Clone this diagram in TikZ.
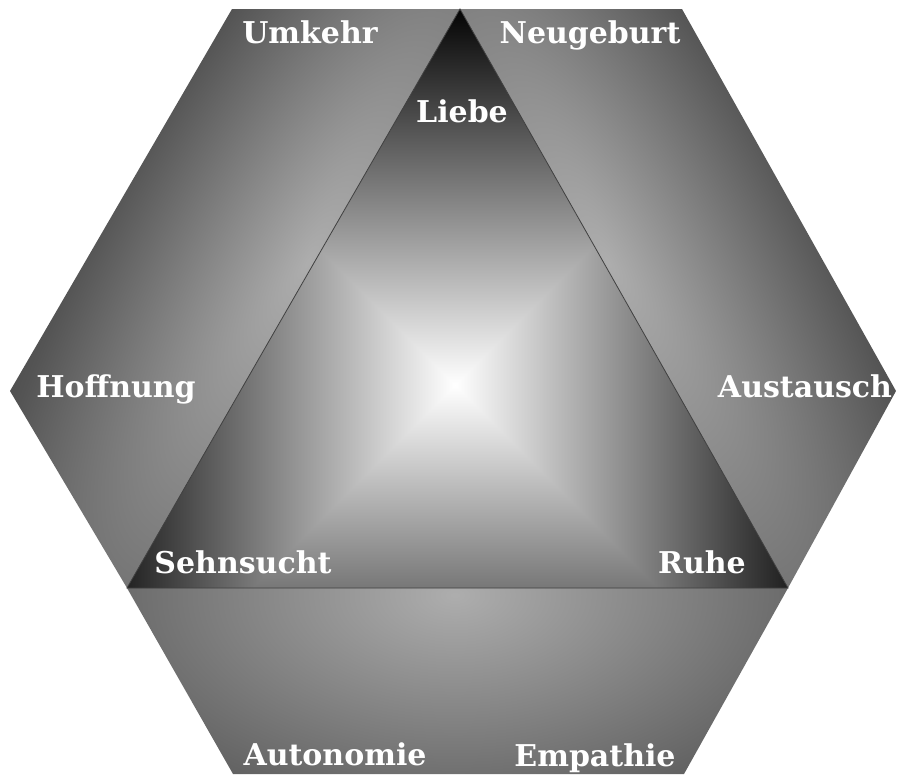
\documentclass[tikz,border=0pt]{standalone}
\usepackage{fontspec}
\setmainfont{DejaVu Serif}
\definecolor{bandlight}{rgb}{0.68,0.68,0.68}
\definecolor{banddark}{rgb}{0.33,0.33,0.33}
\definecolor{banddeep}{rgb}{0.10,0.10,0.10}
\pgfdeclarefunctionalshading{pyrshade}{\pgfpoint{-450bp}{-450bp}}{\pgfpoint{450bp}{450bp}}{}{abs exch abs 2 copy lt {exch} if pop 380 div 1 exch sub dup 0 lt {pop 0} if dup dup}
\pgfdeclareradialshading{bandshade}{\pgfpoint{0bp}{0bp}}{color(0bp)=(bandlight); color(100bp)=(banddark); color(200bp)=(banddeep)}
\begin{document}
\begin{tikzpicture}[x=1pt,y=-1pt,
  lbl/.style={text=white, font=\bfseries\fontsize{30}{30}\selectfont, anchor=base, inner sep=0pt},
  shadebox/.style={inner sep=0pt, outer sep=0pt},
  triedge/.style={draw=black!75, line width=0.8pt, line join=miter}]
\useasboundingbox (0,0) rectangle (897,774);
\coordinate (H1) at (232,9);
\coordinate (H2) at (682,9);
\coordinate (H3) at (896,391);
\coordinate (H4) at (684,774);
\coordinate (H5) at (233,774);
\coordinate (H6) at (10,391);
\coordinate (T1) at (460,9);
\coordinate (T2) at (788,588);
\coordinate (T3) at (127,588);
% left band
\begin{scope}
\clip (H1) -- (T1) -- (T3) -- (H6) -- cycle;
\node[shadebox, rotate=60, xscale=5.9, yscale=2.0] (sl) at (308,262) {\pgfuseshading{bandshade}};
\end{scope}
% right band
\begin{scope}
\clip (T1) -- (H2) -- (H3) -- (T2) -- cycle;
\node[shadebox, rotate=-60.5, xscale=5.9, yscale=2.0] (sr) at (608,262) {\pgfuseshading{bandshade}};
\end{scope}
% bottom band
\begin{scope}
\clip (T3) -- (T2) -- (H4) -- (H5) -- cycle;
\node[shadebox, xscale=4.5, yscale=2.6] (sb) at (455,595) {\pgfuseshading{bandshade}};
\end{scope}
% triangle
\begin{scope}
\clip (T1) -- (T2) -- (T3) -- cycle;
\node[shadebox] (st) at (455,385) {\pgfuseshading{pyrshade}};
\end{scope}
\draw[triedge] (T1) -- (T2) -- (T3) -- cycle;
% labels
\node[lbl] (umkehr) at (310,43) {Umkehr};
\node[lbl] (neugeburt) at (590,43) {Neugeburt};
\node[lbl] (liebe) at (462,122) {Liebe};
\node[lbl] (hoffnung) at (116,397) {Hoffnung};
\node[lbl] (austausch) at (805,397) {Austausch};
\node[lbl] (sehnsucht) at (243,573) {Sehnsucht};
\node[lbl] (ruhe) at (702,573) {Ruhe};
\node[lbl] (autonomie) at (335,765) {Autonomie};
\node[lbl] (empathie) at (595,766) {Empathie};
\end{tikzpicture}
\end{document}
